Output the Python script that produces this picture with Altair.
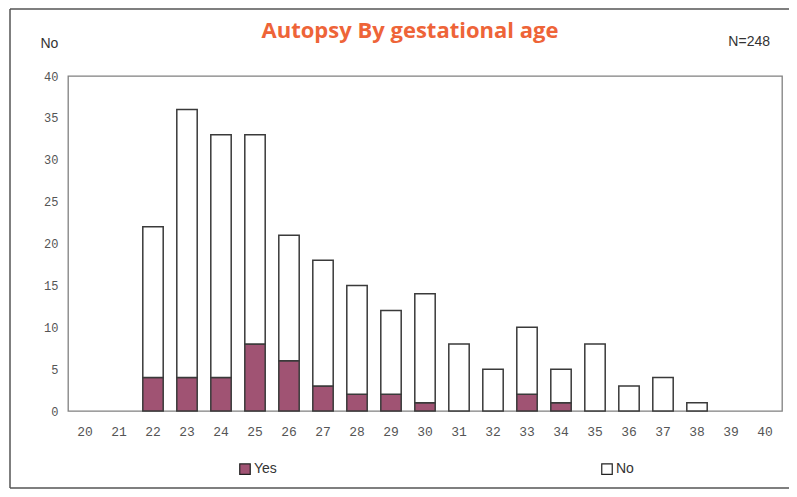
import altair as alt
import pandas as pd

weeks = list(range(20, 41))
yes_counts = [0, 0, 4, 4, 4, 8, 6, 3, 2, 2, 1, 0, 0, 2, 1, 0, 0, 0, 0, 0, 0]
total_counts = [0, 0, 22, 36, 33, 33, 21, 18, 15, 12, 14, 8, 5, 10, 5, 8, 3, 4, 1, 0, 0]
no_counts = [t - y for t, y in zip(total_counts, yes_counts)]
groups = ["Yes", "No"]
group_colors = ["#A05373", "#FFFFFF"]
title_text = "Autopsy By gestational age"
n_label = "N=248"

rows = []
for w, y, n in zip(weeks, yes_counts, no_counts):
    rows.append({"week": w, "group": "Yes", "count": y, "ord": 0})
    rows.append({"week": w, "group": "No", "count": n, "ord": 1})
df = pd.DataFrame(rows)

bars = alt.Chart(df).transform_filter("datum.count > 0").mark_bar(
    stroke="#3a3a3a", strokeWidth=1.5
).encode(
    x=alt.X("week:O", title=None,
            scale=alt.Scale(domain=weeks, paddingInner=0.4, paddingOuter=0.2),
            axis=alt.Axis(labelAngle=0, labelFont="Liberation Mono", labelFontSize=13,
                          labelColor="#555", labelPadding=14, ticks=False, domain=False)),
    y=alt.Y("count:Q", stack="zero",
            scale=alt.Scale(domain=[0, 40]),
            axis=alt.Axis(values=[0, 5, 10, 15, 20, 25, 30, 35, 40], grid=False,
                          ticks=False, domain=False, labelFont="Liberation Mono",
                          labelFontSize=12, labelColor="#555", labelPadding=10,
                          title="No", titleAngle=0, titleFont="Liberation Sans",
                          titleFontSize=14, titleFontWeight="normal", titleColor="#333",
                          titleX=-28, titleY=-26, titleAlign="left")),
    color=alt.Color("group:N", scale=alt.Scale(domain=groups, range=group_colors),
                    legend=alt.Legend(title=None, orient="none", direction="horizontal",
                                      legendX=170, legendY=386, columnPadding=322,
                                      symbolType="square", symbolSize=110,
                                      symbolStrokeColor="#222", symbolStrokeWidth=1.2,
                                      labelFont="Liberation Sans", labelFontSize=14,
                                      labelColor="#333", labelOffset=2)),
    order=alt.Order("ord:Q", sort="ascending"),
)

ttl = alt.Chart(pd.DataFrame({"t": [title_text]})).mark_text(
    font="Open Sans", fontSize=22, fontWeight="bold", color="#EE6438",
    align="center", baseline="middle"
).encode(text="t:N", x=alt.value(342), y=alt.value(-45))

nlab = alt.Chart(pd.DataFrame({"t": [n_label]})).mark_text(
    font="Liberation Sans", fontSize=14, color="#333", align="right", baseline="middle"
).encode(text="t:N", x=alt.value(702), y=alt.value(-34))

one = pd.DataFrame({"a": [0]})
frame_left = alt.Chart(one).mark_rule(color="#555", strokeWidth=1.5).encode(
    x=alt.value(-58), y=alt.value(-67), y2=alt.value(412))
frame_top = alt.Chart(one).mark_rule(color="#555", strokeWidth=1.5).encode(
    x=alt.value(-58), x2=alt.value(725), y=alt.value(-67))
frame_bottom = alt.Chart(one).mark_rule(color="#555", strokeWidth=1.5).encode(
    x=alt.value(-58), x2=alt.value(725), y=alt.value(412))

chart = alt.layer(bars, ttl, nlab, frame_left, frame_top, frame_bottom).properties(
    width=714, height=335,
    background="white",
    autosize=alt.AutoSizeParams(type="none"),
    padding={"left": 60, "top": 68, "right": 7, "bottom": 78},
).configure_view(stroke="#808080", strokeWidth=1.3)

chart.save("out.html", embed_options={"renderer": "svg", "actions": False})
